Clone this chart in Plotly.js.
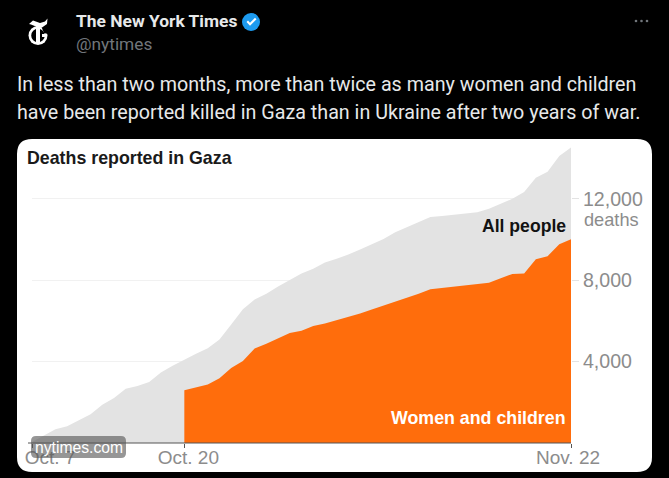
<!DOCTYPE html>
<html><head><meta charset="utf-8">
<script src="https://cdn.plot.ly/plotly-3.0.1.min.js"></script>
<style>html,body{margin:0;padding:0;background:#000;overflow:hidden}</style>
</head><body><div id="chart" style="width:669px;height:478px"></div>
<script>
const dates = ["2023-10-07","2023-10-08","2023-10-09","2023-10-10","2023-10-11","2023-10-12","2023-10-13","2023-10-14","2023-10-15","2023-10-16","2023-10-17","2023-10-18","2023-10-19","2023-10-20","2023-10-21","2023-10-22","2023-10-23","2023-10-24","2023-10-25","2023-10-26","2023-10-27","2023-10-28","2023-10-29","2023-10-30","2023-10-31","2023-11-01","2023-11-02","2023-11-03","2023-11-04","2023-11-05","2023-11-06","2023-11-07","2023-11-08","2023-11-09","2023-11-10","2023-11-11","2023-11-12","2023-11-13","2023-11-14","2023-11-15","2023-11-16","2023-11-17","2023-11-18","2023-11-19","2023-11-20","2023-11-21","2023-11-22"];
const allPeople = [50,380,670,820,1110,1410,1880,2210,2670,2800,3000,3460,3800,4110,4380,4650,5080,5820,6570,7050,7340,7690,8030,8330,8560,8870,9060,9260,9510,9770,10030,10360,10600,10870,11110,11160,11210,11280,11340,11510,11740,12000,12340,13030,13330,14100,14520];
const womenDates = dates.slice(13);
const womenChildren = [2590,2720,2880,3180,3690,4030,4640,4880,5150,5410,5520,5750,5870,6030,6200,6360,6560,6750,6930,7130,7340,7560,7620,7690,7750,7800,7880,8100,8310,8330,9030,9180,9770,10010];
const yTicks = [4000,8000,12000];
const yTickLabels = ["4,000","8,000","12,000"];
const tweetName = "The New York Times";
const tweetHandle = "@nytimes";
const tweetLines = ["In less than two months, more than twice as many women and children","have been reported killed in Gaza than in Ukraine after two years of war."];

const W=669,H=478,L=32,R=571,T=137,B=443;
const px=x=>(x-L)/(R-L), py=y=>(B-y)/(B-T);
const rr=(x0,y0,x1,y1,r)=>`M${px(x0+r)},${py(y0)}L${px(x1-r)},${py(y0)}Q${px(x1)},${py(y0)} ${px(x1)},${py(y0+r)}L${px(x1)},${py(y1-r)}Q${px(x1)},${py(y1)} ${px(x1-r)},${py(y1)}L${px(x0+r)},${py(y1)}Q${px(x0)},${py(y1)} ${px(x0)},${py(y1-r)}L${px(x0)},${py(y0+r)}Q${px(x0)},${py(y0)} ${px(x0+r)},${py(y0)}Z`;
const poly=(pts,c)=>({type:"path",xref:"paper",yref:"paper",path:"M"+pts.map(p=>px(p[0])+","+py(p[1])).join("L")+"Z",fillcolor:c,line:{width:0},layer:"above"});
const circ=(cx,cy,r,color)=>({type:"circle",xref:"paper",yref:"paper",x0:px(cx-r),x1:px(cx+r),y0:py(cy+r),y1:py(cy-r),fillcolor:color,line:{width:0},layer:"above"});
const SANS="Roboto, 'Liberation Sans', sans-serif", ARIAL="'Liberation Sans', Arial, sans-serif";
const note=(x,y,text,size,color,anchor,family,extra)=>Object.assign({xref:"paper",yref:"paper",x:px(x),y:py(y),text,showarrow:false,xanchor:anchor||"left",yanchor:"middle",font:{size,color,family:family||SANS},borderpad:0},extra||{});

const tickFont={size:19,color:"#8c8c8c",family:ARIAL};
const xBase={type:"date",range:["2023-10-07","2023-11-22"],showgrid:false,zeroline:false,ticks:"outside",ticklen:4,tickcolor:"#555",tickwidth:1,tickfont:tickFont,ticklabelstandoff:-7,anchor:"y",fixedrange:true};
const traces=[
 {type:"scatter",x:dates,y:allPeople,mode:"lines",line:{width:0,color:"#e3e3e3"},fill:"tozeroy",fillcolor:"#e3e3e3",hoverinfo:"skip",name:"All people"},
 {type:"scatter",x:womenDates,y:womenChildren,mode:"lines",line:{width:0,color:"#ff6d0c"},fill:"tozeroy",fillcolor:"#ff6d0c",hoverinfo:"skip",name:"Women and children"},
 {type:"scatter",xaxis:"x2",x:[dates[0]],y:[0],mode:"none",hoverinfo:"skip"},
 {type:"scatter",xaxis:"x3",x:[dates[46]],y:[0],mode:"none",hoverinfo:"skip"}
];
const layout={
 width:W,height:H,margin:{l:L,r:W-R,t:T,b:H-B,pad:0},paper_bgcolor:"#000",plot_bgcolor:"rgba(0,0,0,0)",showlegend:false,
 xaxis:Object.assign({},xBase,{tickvals:["2023-10-20"],ticktext:["Oct. 20"],ticklabelshift:4,showline:false}),
 xaxis2:Object.assign({},xBase,{overlaying:"x",tickvals:["2023-10-07"],ticktext:["Oct. 7"],ticklabelshift:18}),
 xaxis3:Object.assign({},xBase,{overlaying:"x",tickvals:["2023-11-22"],ticktext:["Nov. 22"],ticklabelshift:-3}),
 yaxis:{range:[0,15037],side:"right",tickvals:yTicks,ticktext:yTickLabels,showgrid:true,gridcolor:"#f1f1f1",gridwidth:1,zeroline:false,showline:false,ticks:"outside",ticklen:7,tickcolor:"#e3e3e3",tickfont:Object.assign({},tickFont,{size:19.6}),fixedrange:true},
 shapes:[
  {type:"path",xref:"paper",yref:"paper",path:rr(17,139,652,472,15),fillcolor:"#fff",line:{width:0},layer:"below"},
  {type:"line",xref:"paper",yref:"paper",x0:px(28),x1:px(571),y0:0,y1:0,line:{color:"#555",width:1},layer:"above"},
  {type:"path",xref:"paper",yref:"paper",path:rr(31,436,126,458,5),fillcolor:"rgba(85,85,85,0.62)",line:{width:0},layer:"above"},
  circ(251,22,9,"#1d9bf0"),
  poly([[246.5,22],[248,20.5],[250,22.8],[255,17.8],[256.5,19.2],[250,25.8]],"#fff"),
  circ(636,21,1.3,"#71767b"),circ(641.5,21,1.3,"#71767b"),circ(647,21,1.3,"#71767b"),
  circ(38,35.5,9.5,"#fff"),
  circ(38,35.5,6.8,"#000"),
  poly([[41,26],[48,26],[48,34],[44,33]],"#000"),
  poly([[36,26],[40,26],[40,44],[36,43]],"#fff"),
  poly([[42,34],[45,34],[45,37],[42,37]],"#fff"),
  poly([[29,24],[33,20.5],[40,23],[45,21.5],[47.5,18.5],[47,24],[42,27.5],[36,26.5],[31,24.5]],"#fff")
 ],
 annotations:[
  note(74.5,21,tweetName,17.5,"#e7e9ea","left",SANS,{font:{size:17.4,color:"#e7e9ea",family:SANS,weight:700}}),
  note(74.5,44,tweetHandle,17.3,"#71767b"),
  note(16,85,tweetLines[0],19.7,"#e7e9ea"),
  note(16,112,tweetLines[1],19.7,"#e7e9ea"),
  note(25.5,158,"<b>Deaths reported in Gaza</b>",17.8,"#1a1a1a","left",ARIAL),
  note(566.5,226,"<b>All people</b>",17.6,"#121212","right",ARIAL),
  note(566.5,418,"<b>Women and children</b>",17.8,"#fff","right",ARIAL),
  note(582.5,220,"deaths",18.2,"#8c8c8c","left",ARIAL),
  note(78.5,447.5,"nytimes.com",15.7,"#fff","center",ARIAL)
 ]
};
Plotly.newPlot("chart",traces,layout,{displayModeBar:false,staticPlot:true});
</script></body></html>
